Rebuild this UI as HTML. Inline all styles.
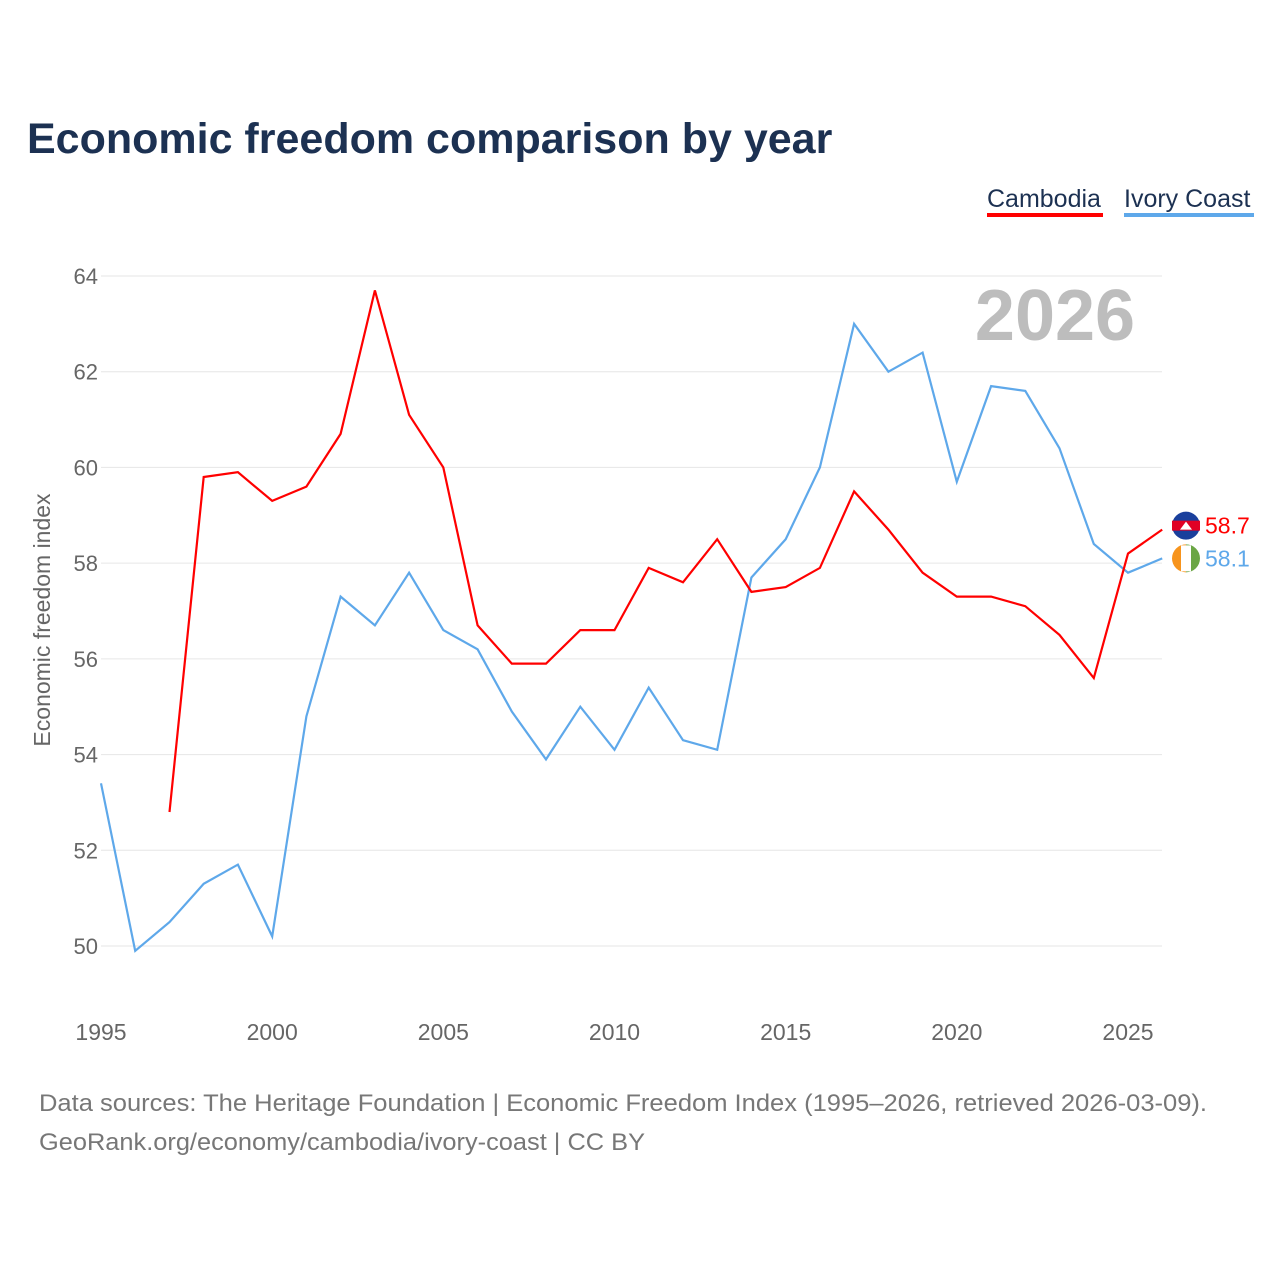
<!DOCTYPE html>
<html><head><meta charset="utf-8">
<style>
body{margin:0;width:1280px;height:1280px;background:#fff;font-family:"Liberation Sans",sans-serif;overflow:hidden}
</style></head>
<body>
<svg id="chart" width="1280" height="1280" xmlns="http://www.w3.org/2000/svg">
<text x="27" y="153" font-size="43" font-weight="bold" fill="#1c3152">Economic freedom comparison by year</text>
<g><text x="987" y="207" font-size="25" fill="#1c3152">Cambodia</text><rect x="987" y="213" width="116" height="4" fill="#f00"/></g>
<g><text x="1124" y="207" font-size="25" fill="#1c3152">Ivory Coast</text><rect x="1124" y="213" width="130" height="4" fill="#5ea8ea"/></g>
<text x="1055" y="340" font-size="72" font-weight="bold" fill="#bdbdbd" text-anchor="middle">2026</text>
<text transform="translate(50,620) rotate(-90)" font-size="23" fill="#666" text-anchor="middle">Economic freedom index</text>
<g id="grid"></g><g id="lines"></g><g id="labels"></g>
<text x="39" y="1111" font-size="24" fill="#777" textLength="1168" lengthAdjust="spacingAndGlyphs">Data sources: The Heritage Foundation | Economic Freedom Index (1995–2026, retrieved 2026-03-09).</text>
<text x="39" y="1150" font-size="24" fill="#777" textLength="606" lengthAdjust="spacingAndGlyphs">GeoRank.org/economy/cambodia/ivory-coast | CC BY</text>
</svg>
<script>
const years=[];for(let y=1995;y<=2026;y++)years.push(y);
const ivoryCoast=[53.4,49.9,50.5,51.3,51.7,50.2,54.8,57.3,56.7,57.8,56.6,56.2,54.9,53.9,55.0,54.1,55.4,54.3,54.1,57.7,58.5,60.0,63.0,62.0,62.4,59.7,61.7,61.6,60.4,58.4,57.8,58.1];
const cambodia=[null,null,52.8,59.8,59.9,59.3,59.6,60.7,63.7,61.1,60.0,56.7,55.9,55.9,56.6,56.6,57.9,57.6,58.5,57.4,57.5,57.9,59.5,58.7,57.8,57.3,57.3,57.1,56.5,55.6,58.2,58.7];
const yTicks=[50,52,54,56,58,60,62,64];
const xTicks=[1995,2000,2005,2010,2015,2020,2025];
const NS="http://www.w3.org/2000/svg";
const X=y=>101+(y-1995)*(1027/30);
const Y=v=>946-(v-50)*(670/14);
function mk(t,a,p){const e=document.createElementNS(NS,t);for(const k in a)e.setAttribute(k,a[k]);p.appendChild(e);return e;}
const grid=document.getElementById('grid'),lines=document.getElementById('lines'),labels=document.getElementById('labels');
yTicks.forEach(v=>{
 const l=mk('line',{x1:101,x2:1162,y1:Y(v),y2:Y(v),stroke:'#e6e6e6','stroke-width':1},grid);
 
 
 const t=mk('text',{x:98,y:Y(v)+8,'font-size':22,fill:'#666','text-anchor':'end'},grid);t.textContent=v;
 
 
});
xTicks.forEach(v=>{
 const t=mk('text',{x:X(v),y:1040,'font-size':23,fill:'#666','text-anchor':'middle'},grid);t.textContent=v;
 
 
});
function draw(vals,color,name){
 let d='';vals.forEach((v,i)=>{if(v==null)return;d+=(d?'L':'M')+X(years[i]).toFixed(1)+','+Y(v).toFixed(1);});
 const p=mk('path',{d:d,fill:'none',stroke:color,'stroke-width':2.2},lines);
 
 
}
draw(ivoryCoast,'#5ea8ea','line-ivory-coast');
draw(cambodia,'#f00','line-cambodia');
function endLabel(v,ly,color,name,fl){
 const c=mk('circle',{cx:1186,cy:ly,r:14,fill:fl},labels);
 
 
 const t=mk('text',{x:1205,y:ly+8,'font-size':23,fill:color},labels);t.textContent=v.toFixed(1);
 
 
}
const cv=cambodia[cambodia.length-1];
const cy=Y(cv)-4;
endLabel(cv,cy,'#f00','cambodia','#1a3f9c');
mk('rect',{x:1172,y:cy-5,width:28,height:10,fill:'#e00025'},labels);
mk('path',{d:`M1180,${cy+4}L1186,${cy-4}L1192,${cy+4}Z`,fill:'#fff'},labels);
const iv=ivoryCoast[ivoryCoast.length-1];
const iy=Y(iv);
endLabel(iv,iy,'#5ea8ea','ivory-coast','#fff');
mk('path',{d:`M1186,${iy-14}A14,14 0 0 0 1186,${iy+14}Z`,fill:'#f7941d'},labels);
mk('path',{d:`M1186,${iy-14}A14,14 0 0 1 1186,${iy+14}Z`,fill:'#6ba645'},labels);
mk('rect',{x:1181,y:iy-13,width:10,height:26,fill:'#fff'},labels);
</script>
</body></html>
